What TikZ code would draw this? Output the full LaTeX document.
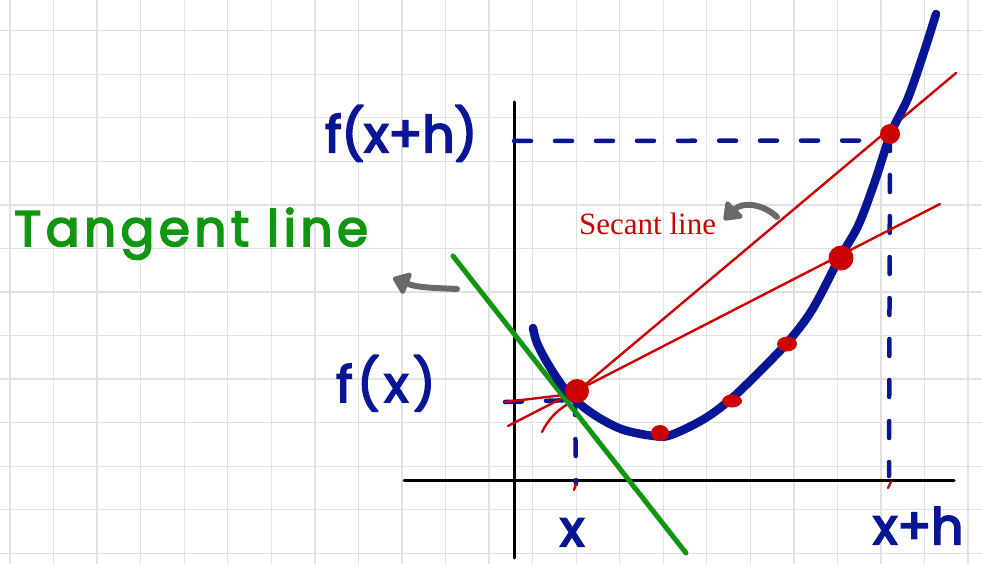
\documentclass[tikz,border=0pt]{standalone}
\usepackage{fontspec}
\setmainfont{Liberation Serif}
\newfontfamily\handfont{Poppins}[FakeBold=4]
\newfontfamily\handwide{Poppins}[FakeBold=3.5, LetterSpace=9]
\usetikzlibrary{arrows.meta}
\definecolor{gridgray}{RGB}{225,225,225}
\definecolor{penblue}{RGB}{8,22,150}
\definecolor{penred}{RGB}{204,0,0}
\definecolor{pengreen}{RGB}{16,150,16}
\definecolor{pengray}{RGB}{105,105,105}
\tikzset{
  gridline/.style={draw=gridgray, line width=1.3pt},
  axisline/.style={draw=black, line width=3pt, line cap=round},
  curveline/.style={draw=penblue, line width=8.5pt, line cap=round, line join=round},
  dashblue/.style={draw=penblue, line width=4.5pt, line cap=round, dash pattern=on 17pt off 24pt},
  secantline/.style={draw=penred, line width=2.4pt, line cap=round},
  tangentline/.style={draw=pengreen, line width=5pt, line cap=round},
  dotred/.style={fill=penred},
  pointer/.style={draw=pengray, line width=6pt, line cap=round, -{Triangle[length=18pt 0,width=26pt 0, round]}},
  handlabel/.style={font=\handfont\fontsize{50}{60}\selectfont, inner sep=0pt},
  handwidelabel/.style={font=\handwide\fontsize{50}{60}\selectfont, inner sep=0pt},
  secantlabel/.style={text=penred, font=\fontsize{31}{36}\selectfont, inner sep=0pt}
}
\begin{document}
\begin{tikzpicture}[x=1pt,y=-1pt]
\useasboundingbox (0,0) rectangle (982,564);
\fill[white] (0,0) rectangle (982,564);
% grid
\foreach \k in {0,...,22} {
  \draw[gridline] ({10+43.55*\k},0) -- ({10+43.55*\k},564);
}
\foreach \k in {-1,...,12} {
  \draw[gridline] (0,{30.7+43.55*\k}) -- (982,{30.7+43.55*\k});
}
% axes
\coordinate (yt) at (514,102);
\coordinate (yb) at (514,558);
\coordinate (xl) at (404,480);
\coordinate (xr) at (954,480);
\draw[axisline] (yt) -- (yb);
\draw[axisline] (xl) -- (xr);
% key points
\coordinate (P) at (577,391);
\coordinate (Q) at (890,134);
\coordinate (M) at (841,258);
% dashed guides
\coordinate (fxh) at (514,141);
\coordinate (fx) at (505,402);
\coordinate (xa) at (576,484);
\coordinate (xha) at (889,476);
\draw[dashblue] (fxh) -- (868,140.5) .. controls (875,139) and (880,137) .. (Q);
\draw[dashblue] (Q) -- (xha);
\draw[dashblue] (fx) -- (575,400);
\draw[dashblue] (575,398) -- (xa);
% secant lines
\coordinate (s1a) at (580,389);
\coordinate (s1b) at (956,73);
\coordinate (s2a) at (508,426);
\coordinate (s2b) at (940,204);
\draw[secantline] (s1a) -- (s1b);
\draw[secantline] (s2a) -- (s2b);
\draw[secantline] (505,402) -- (572,394);
\draw[secantline] (542,432) .. controls (548,420) and (556,411) .. (568,404);
\draw[secantline] (891,482) -- (888,488);
\draw[secantline] (576,484) -- (574,490);
% tangent line
\coordinate (ta) at (453,256);
\coordinate (tb) at (686,553);
\draw[tangentline] (ta) -- (tb);
% curve
\draw[curveline] plot[smooth, tension=0.55] coordinates {
  (533,328) (537,343) (548,364) (564,388) (581,405) (601,419) (624,430)
  (654,436) (671,435) (704,419) (731,399) (758,373) (787,343) (812,310)
  (839,259) (858,226) (874,184) (891,133) (908,98) (924,52) (936,14)};
% red dots
\fill[dotred] (P) circle (12);
\fill[dotred] (Q) circle (10);
\fill[dotred] (M) circle (12.5);
\fill[dotred] (787,344) ellipse (10 and 7.5);
\fill[dotred] (732,401) ellipse (10 and 6.5);
\fill[dotred] (660,433) ellipse (9 and 8);
% labels
\node[handlabel, text=penblue, anchor=base west] (lfxh) at (325,152) {f(x+h)};
\node[handwidelabel, text=pengreen, anchor=base west] (ltan) at (14,246) {Tangent line};
\node[handwidelabel, text=penblue, anchor=base west] (lfx) at (336,402) {f(x)};
\node[handlabel, text=penblue, anchor=base west] (lx) at (560,546) {x};
\node[handlabel, text=penblue, anchor=base west] (lxh) at (873,544) {x+h};
\node[secantlabel, anchor=base west] (lsec) at (579,234) {Secant line};
% pointers
\coordinate (tp1) at (457,289);
\coordinate (tp2) at (393,278);
\draw[pointer] (tp1) .. controls (438,288) and (418,288) .. (tp2);
\coordinate (sp1) at (777,217);
\coordinate (sp2) at (724,220);
\draw[pointer] (sp1) .. controls (762,203) and (742,202) .. (sp2);
\end{tikzpicture}
\end{document}
